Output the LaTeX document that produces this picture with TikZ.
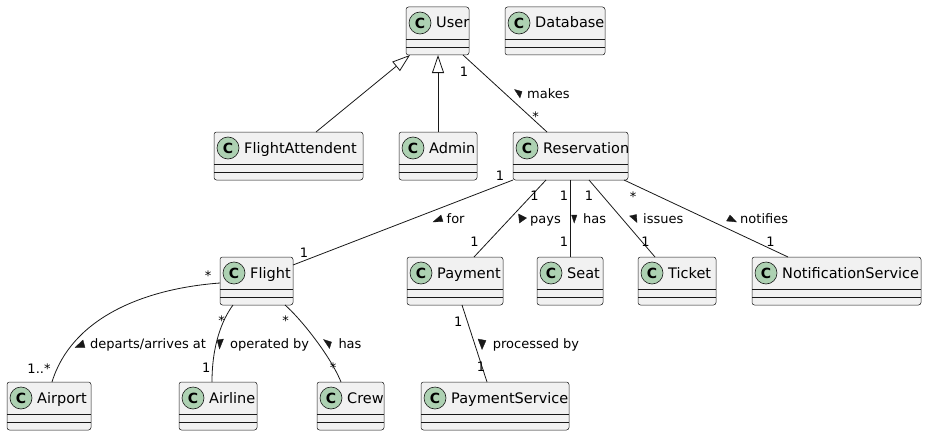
\documentclass[tikz,border=0pt]{standalone}
\usepackage{fontspec}
\setmainfont{DejaVu Sans}
\usetikzlibrary{arrows.meta,calc}
\definecolor{clsfill}{HTML}{F1F1F1}
\definecolor{clsline}{HTML}{181818}
\definecolor{circfill}{HTML}{ADD1B2}
\tikzset{
 clsbox/.style={draw=clsline, fill=clsfill, line width=0.5pt, rounded corners=2.5pt, minimum height=48pt, inner sep=0pt, outer sep=0pt},
 sepline/.style={draw=clsline, line width=0.5pt},
 circ/.style={circle, draw=clsline, fill=circfill, line width=0.6pt, minimum size=22pt, inner sep=0pt, font=\fontsize{14}{14}\selectfont\bfseries},
 clsname/.style={anchor=base west, inner sep=0pt, font=\fontsize{14.5}{16}\selectfont},
 conn/.style={draw=clsline, line width=0.8pt},
 mult/.style={anchor=north, inner sep=0pt, font=\fontsize{13}{15}\selectfont},
 lbl/.style={anchor=base west, inner sep=0pt, font=\fontsize{13}{15}\selectfont},
 dirtri/.style={fill=clsline, draw=clsline, line width=0.3pt, line join=miter},
 ext/.style={conn, -{Triangle[open,length=18pt,width=12pt,fill=white]}},
}
\newcommand{\umlcls}[4]{%
  \node[clsbox, minimum width=#4pt] (#1) at (#2,#3+24) {};
  \draw[sepline] ([yshift=-32pt]#1.north west) -- ([yshift=-32pt]#1.north east);
  \draw[sepline] ([yshift=-40pt]#1.north west) -- ([yshift=-40pt]#1.north east);
  \node[circ] (#1-c) at ([xshift=14pt,yshift=-16pt]#1.north west) {C};
  \node[clsname] (#1-t) at ([xshift=30pt,yshift=-21pt]#1.north west) {#1};
}
\begin{document}
\begin{tikzpicture}[x=1pt,y=-1pt]
\useasboundingbox (0,0) rectangle (928,436);
% classes
\umlcls{User}{437.5}{7}{63}
\umlcls{Database}{555}{7}{100}
\umlcls{FlightAttendent}{288.5}{132}{149}
\umlcls{Admin}{438}{132}{78}
\umlcls{Reservation}{570.5}{132}{115}
\umlcls{Flight}{256.5}{257}{73}
\umlcls{Payment}{455}{257}{96}
\umlcls{Seat}{570}{257}{66}
\umlcls{Ticket}{677}{257}{78}
\umlcls{NotificationService}{836.5}{257}{169}
\umlcls{Airport}{49}{382}{84}
\umlcls{Airline}{218}{382}{78}
\umlcls{Crew}{350.5}{382}{67}
\umlcls{PaymentService}{495}{382}{148}
% inheritance
\draw[ext] ([xshift=27.5pt]FlightAttendent.north) -- ([xshift=-27.5pt]User.south);
\draw[ext] (Admin.north) -- (Admin.north |- User.south);
% associations
\draw[conn] ([xshift=25.5pt]User.south) -- ([xshift=-23.5pt]Reservation.north);
\draw[conn] (Reservation.south west) -- ([yshift=-8pt]Flight.north east);
\draw[conn] ([xshift=-24.5pt]Reservation.south) -- ([xshift=19pt]Payment.north);
\draw[conn] (Seat.north |- Reservation.south) -- (Seat.north);
\draw[conn] ([xshift=18.5pt]Reservation.south) -- ([xshift=-22pt]Ticket.north);
\draw[conn] ([xshift=53.5pt]Reservation.south) -- ([xshift=-48.5pt]NotificationService.north);
\draw[conn] ([yshift=-2pt]Flight.west) .. controls (140,289) and (71,320) .. ([xshift=3pt]Airport.north);
\draw[conn] ([xshift=-23.5pt]Flight.south) .. controls (222,320) and (212,345) .. ([xshift=-6pt]Airline.north);
\draw[conn] ([xshift=28.5pt]Flight.south) .. controls (300,318) and (330,355) .. ([xshift=-9.5pt]Crew.north);
\draw[conn] ([xshift=7pt]Payment.south) -- ([xshift=-8pt]PaymentService.north);
% makes
\filldraw[dirtri] (514.5,89.5) -- (522,91.5) -- (520,98) -- cycle;
\node[lbl] (lmakes) at (527,98) {makes};
\node[mult] (m1) at (464,67) {1};
\node[mult] (m2) at (535.5,112) {*};
% for
\filldraw[dirtri] (433,222) -- (441,215) -- (443,221.5) -- cycle;
\node[lbl] (lfor) at (446.5,223) {for};
\node[mult] (m3) at (500,170.5) {1};
\node[mult] (m4) at (304,248) {1};
% pays
\filldraw[dirtri] (518.5,214) -- (526.5,218) -- (519.5,223) -- cycle;
\node[lbl] (lpays) at (530,223) {pays};
\node[mult] (m5) at (534.5,191) {1};
\node[mult] (m6) at (474.5,237) {1};
% has seat
\filldraw[dirtri] (571.5,215) -- (577,215) -- (574.2,223) -- cycle;
\node[lbl] (lhas) at (583,223) {has};
\node[mult] (m7) at (564,191) {1};
\node[mult] (m8) at (564,237) {1};
% issues
\filldraw[dirtri] (629.5,216) -- (636.5,214.5) -- (637,222.5) -- cycle;
\node[lbl] (lissues) at (643,223) {issues};
\node[mult] (m9) at (589,191) {1};
\node[mult] (m10) at (645.5,237) {1};
% notifies
\filldraw[dirtri] (726.5,221) -- (730,215) -- (736.5,222) -- cycle;
\node[lbl] (lnotifies) at (740,223) {notifies};
\node[mult] (m11) at (633,191.7) {*};
\node[mult] (m12) at (770.5,237) {1};
% departs
\filldraw[dirtri] (75,347.5) -- (83,340) -- (85,347.5) -- cycle;
\node[lbl] (ldeparts) at (90,348.3) {departs/arrives at};
\node[mult] (m13) at (208,270.7) {*};
\node[mult] (m14) at (39,363.3) {1..*};
% operated by
\filldraw[dirtri] (217,340) -- (223.5,339) -- (219.5,349) -- cycle;
\node[lbl] (loperated) at (230,348.3) {operated by};
\node[mult] (m15) at (221.7,316) {*};
\node[mult] (m16) at (206.3,363.3) {1};
% has crew
\filldraw[dirtri] (323.5,339.5) -- (331.5,342) -- (329.5,348.5) -- cycle;
\node[lbl] (lhascrew) at (338.3,348.3) {has};
\node[mult] (m17) at (285.5,316) {*};
\node[mult] (m18) at (333,362.7) {*};
% processed by
\filldraw[dirtri] (478,339) -- (486,340.5) -- (482,349.5) -- cycle;
\node[lbl] (lprocessed) at (492.7,348.3) {processed by};
\node[mult] (m19) at (458.3,316.7) {1};
\node[mult] (m20) at (481,362) {1};
\end{tikzpicture}
\end{document}
